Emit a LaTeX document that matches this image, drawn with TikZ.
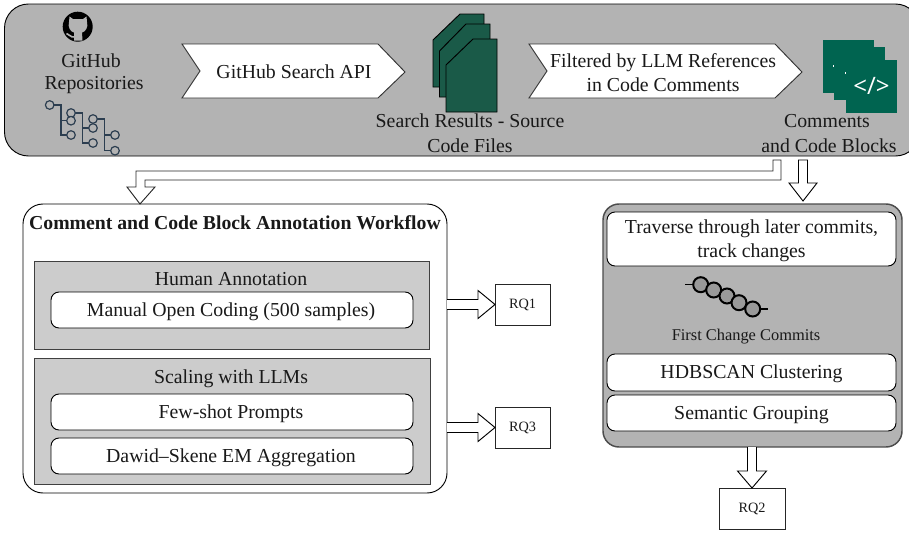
\documentclass[tikz,border=0pt]{standalone}
\usepackage{fontspec}
\setmainfont{Liberation Serif}
\newfontfamily\codefont{Open Sans}
\usetikzlibrary{calc}
\definecolor{panelgray}{HTML}{B3B3B3}
\definecolor{innergray}{HTML}{CCCCCC}
\definecolor{filegreen}{HTML}{1A5A48}
\definecolor{codegreen}{HTML}{006450}
\definecolor{treeblue}{HTML}{2C3E50}
\definecolor{beadgray}{HTML}{999999}
\newcommand{\pxu}{0.75pt}
\newcommand{\bodyfont}{\fontsize{14.85}{18}\selectfont}
\tikzset{
  every node/.style={inner sep=0pt,outer sep=0pt,align=center,text=black!90,font=\bodyfont},
  line/.style={draw=black,line width=0.7pt},
  toppanel/.style={line,fill=panelgray,rounded corners=18pt},
  rightpanel/.style={draw=black!70,line width=1.1pt,fill=panelgray,rounded corners=12pt},
  leftpanel/.style={line,fill=white,rounded corners=15pt},
  innerpanel/.style={draw=black!75,line width=0.7pt,fill=innergray},
  whitebox/.style={line,fill=white,rounded corners=6pt},
  rqbox/.style={draw=black!85,line width=0.7pt,fill=white,font=\fontsize{10.7}{13}\selectfont},
  chevron/.style={draw=black!80,line width=0.7pt,fill=white},
  blockarrow/.style={line,fill=white,line join=miter},
  filepage/.style={draw=black,line width=0.7pt,fill=filegreen},
  treeline/.style={draw=treeblue,line width=0.9pt},
  treedot/.style={draw=treeblue,line width=0.9pt,fill=panelgray},
  bead/.style={circle,draw=black,line width=1.5pt,fill=beadgray,minimum size=15*\pxu},
}
\begin{document}
\begin{tikzpicture}[x=0.75pt,y=-0.75pt]
\useasboundingbox (0,0) rectangle (909,532);
\clip (0,0) rectangle (909,532);
% top panel
\node[toppanel,minimum width=915*\pxu,minimum height=152*\pxu] (top) at (462,80) {};
% left panel
\node[leftpanel,minimum width=424*\pxu,minimum height=289*\pxu] (left) at (235,348.5) {};
\node[font=\bfseries\fontsize{14.8}{17}\selectfont] (lefttitle) at (235,222.5) {Comment and Code Block Annotation Workflow};
\node[innerpanel,minimum width=395*\pxu,minimum height=88*\pxu] (human) at (232,305) {};
\node (humant) at (231,279) {Human Annotation};
\node[whitebox,minimum width=362*\pxu,minimum height=36*\pxu] (manual) at (232,310) {};
\node (manualt) at (231,312) {Manual Open Coding (500 samples)};
\node[innerpanel,minimum width=396*\pxu,minimum height=126*\pxu] (scaling) at (232,421) {};
\node (scalingt) at (231,379) {Scaling with LLMs};
\node[whitebox,minimum width=362*\pxu,minimum height=36*\pxu] (few) at (232,412) {};
\node (fewt) at (231,414) {Few-shot Prompts};
\node[whitebox,minimum width=362*\pxu,minimum height=36*\pxu] (dawid) at (232,456) {};
\node (dawidt) at (231,457.5) {Dawid--Skene EM Aggregation};
% right panel
\node[rightpanel,minimum width=299*\pxu,minimum height=243*\pxu] (right) at (752.5,325.5) {};
\node[whitebox,minimum width=289*\pxu,minimum height=54*\pxu] (traverse) at (751.5,239) {};
\node (traverset) at (751.5,240.5) {Traverse through later commits,\\[0pt]track changes};
\node[font=\fontsize{12.3}{15}\selectfont] (fcc) at (746,336.5) {First Change Commits};
\node[whitebox,minimum width=289*\pxu,minimum height=37*\pxu] (hdb) at (751.5,372.5) {};
\node (hdbt) at (751.5,373.5) {HDBSCAN Clustering};
\node[whitebox,minimum width=289*\pxu,minimum height=36*\pxu] (sem) at (751.5,413) {};
\node (semt) at (751.5,415) {Semantic Grouping};
% beads
\coordinate (beadstart) at (685,284.7);
\coordinate (beadend) at (768,309);
\draw[line width=1pt] (beadstart) -- (700.7,284.7);
\draw[line width=1pt] (752.7,309) -- (beadend);
\node[bead] (b1) at (700.7,284.7) {};
\node[bead] (b2) at (713.7,290) {};
\node[bead] (b3) at (727,296) {};
\node[bead] (b4) at (739,302.7) {};
\node[bead] (b5) at (752.7,309) {};
% RQ boxes
\node[rqbox,minimum width=55*\pxu,minimum height=41*\pxu] (rq1) at (522.5,304.5) {RQ1};
\node[rqbox,minimum width=55*\pxu,minimum height=41*\pxu] (rq3) at (522.5,427.5) {RQ3};
\node[rqbox,minimum width=66*\pxu,minimum height=41*\pxu] (rq2) at (752,508.5) {RQ2};
% block arrows between nodes
\draw[blockarrow] let \p1=(left.east),\p2=(rq1.west) in
  (\x1,\y2+5*\pxu) -- (\x2-17*\pxu,\y2+5*\pxu) -- (\x2-17*\pxu,\y2+14*\pxu) -- (\p2) -- (\x2-17*\pxu,\y2-14*\pxu) -- (\x2-17*\pxu,\y2-5*\pxu) -- (\x1,\y2-5*\pxu);
\draw[blockarrow] let \p1=(left.east),\p2=(rq3.west) in
  (\x1,\y2+5*\pxu) -- (\x2-17*\pxu,\y2+5*\pxu) -- (\x2-17*\pxu,\y2+14*\pxu) -- (\p2) -- (\x2-17*\pxu,\y2-14*\pxu) -- (\x2-17*\pxu,\y2-5*\pxu) -- (\x1,\y2-5*\pxu);
\draw[blockarrow] let \p1=(right.south),\p2=(rq2.north) in
  (\x2-4.5*\pxu,\y1) -- (\x2-4.5*\pxu,\y2+17*\pxu) -- (\x2-14.5*\pxu,\y2+17*\pxu) -- (\p2) -- (\x2+14.5*\pxu,\y2+17*\pxu) -- (\x2+4.5*\pxu,\y2+17*\pxu) -- (\x2+4.5*\pxu,\y1);
\coordinate (tiprt) at (803,201);
\draw[blockarrow] let \p1=(top.south),\p2=(tiprt) in
  (\x2-4.5*\pxu,\y1-4*\pxu) -- (\x2-4.5*\pxu,\y2+18*\pxu) -- (\x2-14*\pxu,\y2+18*\pxu) -- (\p2) -- (\x2+14*\pxu,\y2+18*\pxu) -- (\x2+4.5*\pxu,\y2+18*\pxu) -- (\x2+4.5*\pxu,\y1-4*\pxu) -- cycle;
\coordinate (tiplf) at (140,204);
\draw[blockarrow,draw=black!85] (773,160) -- (781,160) -- (781,180) -- (145,180) -- (145,187) -- (155,187) -- (tiplf) -- (127,187) -- (136,187) -- (136,171) -- (773,171) -- cycle;
% chevrons
\coordinate (c1a) at (182,44); \coordinate (c1b) at (378,44); \coordinate (c1c) at (405,72);
\coordinate (c1d) at (378,98); \coordinate (c1e) at (182,98); \coordinate (c1f) at (200,71);
\draw[chevron] (c1a) -- (c1b) -- (c1c) -- (c1d) -- (c1e) -- (c1f) -- cycle;
\coordinate (c2a) at (529,44); \coordinate (c2b) at (775,44); \coordinate (c2c) at (802,72);
\coordinate (c2d) at (775,98); \coordinate (c2e) at (529,98); \coordinate (c2f) at (547,71);
\draw[chevron] (c2a) -- (c2b) -- (c2c) -- (c2d) -- (c2e) -- (c2f) -- cycle;
\node (search) at (294,71.5) {GitHub Search API};
\node (filtered) at (663,72.5) {Filtered by LLM References\\[0pt]in Code Comments};
% top texts
\node (gh1) at (91,60.5) {GitHub};
\node (gh2) at (94,85) {Repositories};
\node (res1) at (470,121) {Search Results - Source};
\node (res2) at (470,145.5) {Code Files};
\node (com1) at (827,121.5) {Comments};
\node (com2) at (829,145.5) {and Code Blocks};
% github icon
\fill[black] (77.7,26.7) circle[radius=15];
\fill[panelgray] (69.5,16.5) -- (73,19) -- (83,19) -- (86.5,16.5) -- (87,22)
  .. controls (88.5,27) and (85.5,32) .. (82,32.5) -- (82.5,40.5) -- (74,40.5) -- (74,32.5)
  .. controls (70.5,32) and (67.5,27) .. (69,22) -- cycle;
\draw[panelgray,line width=1.2pt] (74.5,37) .. controls (70,37.5) and (69.5,34) .. (66.5,33.5);
% files
\draw[filepage] (433,40) -- (460,14) -- (484,14) -- (484,87) -- (433,87) -- cycle;
\draw[filepage] (439.5,51) -- (466,24) -- (490,24) -- (490,97) -- (439.5,97) -- cycle;
\draw[filepage] (446,65) -- (473,39) -- (497,39) -- (497,112) -- (446,112) -- cycle;
% code squares
\fill[codegreen] (823,40) rectangle (874,93);
\fill[codegreen] (834,47) rectangle (885,100);
\fill[codegreen] (846,60) rectangle (897,113);
\fill[white] (833,65) rectangle (834,66.5);
\fill[white] (844.5,72) rectangle (846,74);
\node[text=white,font=\codefont\fontsize{18}{18}\selectfont] (codeglyph) at (871.5,85.5) {</>};
% tree icon
\draw[treeline] (49.7,105) -- (61,105) -- (61,135) -- (71,135);
\draw[treeline] (61,120.7) -- (71,120.7);
\draw[treeline] (71,113) -- (82.5,113) -- (82.5,143) -- (93,143);
\draw[treeline] (82.5,128) -- (93,128);
\draw[treeline] (93,119) -- (104.5,119) -- (104.5,150.7) -- (115,150.7);
\draw[treeline] (104.5,135) -- (115,135);
\foreach \a/\b in {49.7/105,71/113,71/120.7,71/135,93/119,93/128,93/143,115/135,115/150.7}
  \draw[treedot] (\a,\b) circle[radius=4.3];
\end{tikzpicture}
\end{document}
